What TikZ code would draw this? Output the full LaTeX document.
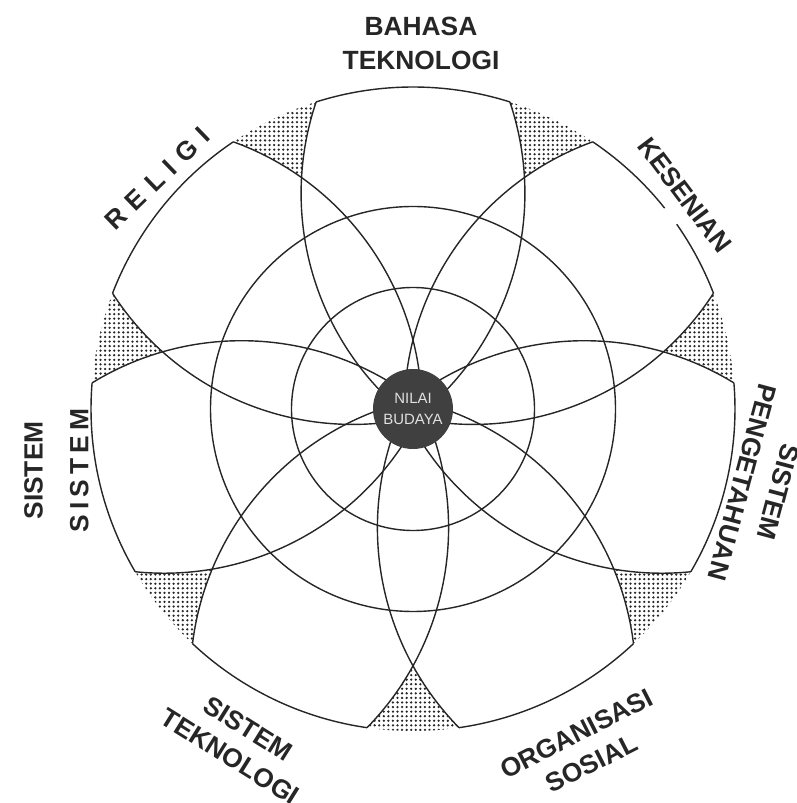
\documentclass[tikz,border=0pt]{standalone}
\usepackage{fontspec}
\setmainfont{Liberation Sans}
\usetikzlibrary{patterns.meta}
\tikzset{
  lbl/.style={font=\bfseries\fontsize{15}{19}\selectfont, align=center, inner sep=0pt, text=black!85},
  petal/.style={line width=0.8pt, black!85},
  gapdots/.style={pattern={Dots[radius=0.72pt, distance=2.6pt]}, pattern color=black!85},
  core/.style={circle, fill=black!75, minimum size=1.6cm, inner sep=0pt, text=white!88!black, font=\fontsize{8.5}{11.5}\selectfont, align=center},
}

\begin{document}
\begin{tikzpicture}
      \useasboundingbox (-8.26,-7.88) rectangle (7.66,8.18);

      \foreach \k in {0,...,6}
        \fill[gapdots, rotate=\k*360/7] (115.714:5.138) arc[start angle=176.82, end angle=161.33, radius=5.716] arc[start angle=107.5, end angle=123.93, radius=6.44] arc[start angle=70.1, end angle=54.61, radius=5.716] -- cycle;

      \coordinate (O0) at (0,0);
      \draw[petal] (O0) circle[radius=2.43];
      \draw[petal] (O0) circle[radius=4.05];

      \foreach \k in {0,...,6}
        \foreach \s in {1,-1}
          \draw[petal, rotate=\k*360/7, xscale=\s] (-0.564,0.27) arc[start angle=225, end angle=161.33, radius=5.716];

      \foreach \k in {0,...,5}
        \draw[petal, rotate=\k*360/7] (72.5:6.44) arc[start angle=72.5, end angle=107.5, radius=6.44];
      \draw[petal] (21.07:6.44) arc[start angle=21.07, end angle=35, radius=6.44];
      \draw[petal] (38.6:6.44) arc[start angle=38.6, end angle=56.07, radius=6.44];

      \node[core] (N) at (O0) {NILAI\\BUDAYA};

      \node[lbl] (B) at (0.16,7.31) {BAHASA\\TEKNOLOGI};
      \node[lbl, rotate=44] (R) at (138:6.88) {\addfontfeature{LetterSpace=35}RELIGI};
      \node[lbl, rotate=-53] (K) at (38.2:6.92) {KESENIAN};
      \node[lbl, rotate=-105] (P) at (-12.7:7.12) {SISTEM\\[2pt]PENGETAHUAN};
      \node[lbl, rotate=90] (S) at (-7.13,-1.23) {SISTEM\\[7pt]\addfontfeature{LetterSpace=20}SISTEM};
      \node[lbl, rotate=-32] (T) at (-3.48,-6.67) {SISTEM\\TEKNOLOGI};
      \node[lbl, rotate=27] (O) at (3.42,-6.79) {ORGANISASI\\SOSIAL};
\end{tikzpicture}
\end{document}
